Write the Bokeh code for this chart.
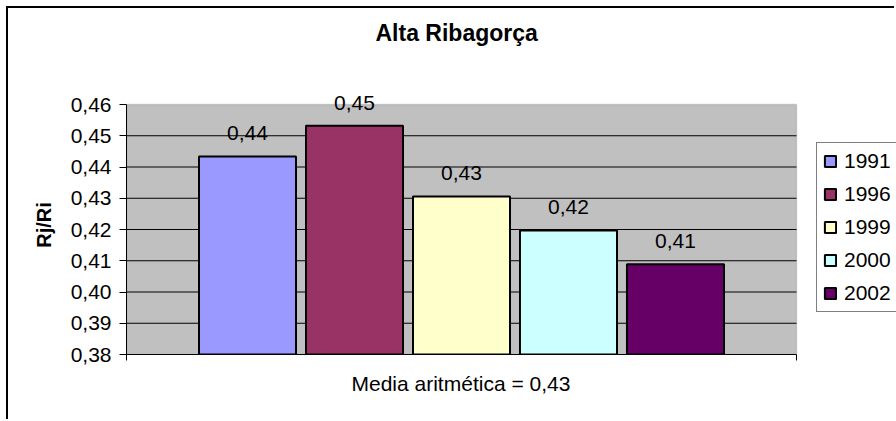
from bokeh.plotting import figure
from bokeh.models import (ColumnDataSource, Range1d, FixedTicker, CustomJSTickFormatter,
                          LabelSet, Legend, LegendItem, BoxAnnotation, Title)
from bokeh.core.properties import value
from bokeh.embed import file_html
from bokeh.resources import INLINE

# ---- data ----
years = ["1991", "1996", "1999", "2000", "2002"]
values = [0.4434, 0.4532, 0.4306, 0.4197, 0.4089]
colors = ["#9999FF", "#993366", "#FFFFCC", "#CCFFFF", "#660066"]
y_ticks = [0.38, 0.39, 0.40, 0.41, 0.42, 0.43, 0.44, 0.45, 0.46]
title_text = "Alta Ribagorça"
y_label = "Rj/Ri"


def fmt(v):
    return f"{v:.2f}".replace(".", ",")


mean = sum(values) / len(values)
x_label = f"Media aritmética = {fmt(mean)}"

xs = list(range(len(years)))
src = ColumnDataSource(dict(x=xs, top=values, year=years, color=colors,
                            label=[fmt(v) for v in values]))

FONT = "Liberation Sans"
# grey plot area spans x0..x1; the drawing frame extends further right to hold the legend
x0, x1 = -1.131, len(years) - 1 + 1.131
x_end = x0 + (x1 - x0) * 770 / 670
y_pad = 0.00288  # extra room above the plot area so the top label is not clipped

p = figure(width=888, height=413, output_backend="svg", toolbar_location=None,
           x_range=Range1d(x0, x_end), y_range=Range1d(y_ticks[0], y_ticks[-1] + y_pad),
           min_border_left=118, min_border_right=0, min_border_top=87, min_border_bottom=67,
           background_fill_color="white", border_fill_color="white",
           outline_line_color=None)
p.styles = {"margin-left": "6px", "margin-top": "6px",
            "border-left": "2px solid black", "border-top": "2px solid black"}

# grey plot area
plot_area = BoxAnnotation(left=x0, right=x1, bottom=y_ticks[0], top=y_ticks[-1],
                          fill_color="#C0C0C0", fill_alpha=1,
                          line_color="#808080", line_width=1.5, level="image")
p.add_layout(plot_area)

# horizontal grid lines across the grey area only
grid_y = y_ticks[1:-1]
p.segment(x0=[x0] * len(grid_y), x1=[x1] * len(grid_y), y0=grid_y, y1=grid_y,
          line_color="black", line_width=1)

r = p.vbar(x="x", top="top", bottom=y_ticks[0], width=0.907, fill_color="color",
           line_color="black", line_width=2, source=src)

labels = LabelSet(x="x", y="top", text="label", source=src, y_offset=23,
                  text_align="center", text_baseline="middle",
                  text_font=value(FONT), text_font_size="21px", text_color="black")
p.add_layout(labels)

# title (a spacer title keeps it high above the plot area)
p.title.text = title_text
p.title.align = "left"
p.title.offset = 249
p.title.text_font = FONT
p.title.text_font_size = "23px"
p.title.text_font_style = "bold"
p.title.text_color = "black"
p.title.standoff = 0
p.add_layout(Title(text=" ", text_font_size="1px", standoff=47), "above")

# y axis
p.yaxis.ticker = FixedTicker(ticks=y_ticks)
p.yaxis.bounds = (y_ticks[0], y_ticks[-1])
p.yaxis.formatter = CustomJSTickFormatter(code="return tick.toFixed(2).replace('.', ',');")
p.yaxis.axis_label = y_label
p.yaxis.axis_label_text_font = FONT
p.yaxis.axis_label_text_font_size = "20px"
p.yaxis.axis_label_text_font_style = "bold"
p.yaxis.axis_label_text_color = "black"
p.yaxis.axis_label_standoff = 13
p.yaxis.major_label_text_font = FONT
p.yaxis.major_label_text_font_size = "21px"
p.yaxis.major_label_text_color = "black"
p.yaxis.major_label_standoff = 8
p.yaxis.major_tick_out = 7
p.yaxis.major_tick_in = 0
p.yaxis.minor_tick_line_color = None
p.yaxis.axis_line_color = "black"
p.yaxis.major_tick_line_color = "black"

# x axis: only the line and the two end ticks
p.xaxis.ticker = FixedTicker(ticks=[x0, x1])
p.xaxis.bounds = (x0, x1)
p.xaxis.major_label_text_font_size = "0px"
p.xaxis.major_label_text_color = None
p.xaxis.major_label_standoff = 0
p.xaxis.major_tick_out = 6
p.xaxis.major_tick_in = 0
p.xaxis.minor_tick_line_color = None
p.xaxis.axis_line_color = "black"
p.xaxis.major_tick_line_color = "black"

# x caption below the axis, centred under the grey area
caption = Title(text=x_label, align="left", offset=225, standoff=19,
                text_font=FONT, text_font_size="21px", text_font_style="normal",
                text_color="black")
p.add_layout(caption, "below")

# grid
p.xgrid.grid_line_color = None
p.ygrid.grid_line_color = None

# legend
items = [LegendItem(label=y, renderers=[r], index=i) for i, y in enumerate(years)]
legend = Legend(items=items, location=(690, 42),
                label_text_font=FONT, label_text_font_size="21px", label_text_color="black",
                glyph_width=14, glyph_height=14, label_height=20, label_standoff=7,
                label_width=70, spacing=9, padding=6, margin=0,
                border_line_color="black", border_line_width=1,
                background_fill_color="white", background_fill_alpha=1)
p.add_layout(legend)

open("out.html", "w").write(file_html(p, INLINE))
